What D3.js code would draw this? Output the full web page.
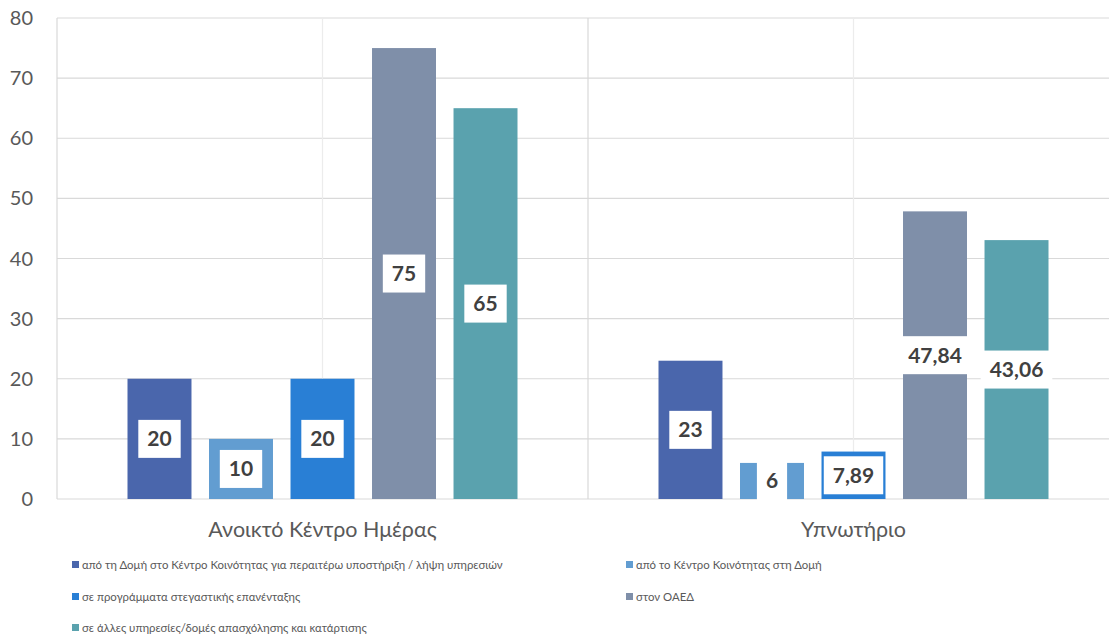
<!DOCTYPE html>
<html><head><meta charset="utf-8">
<script src="https://cdn.jsdelivr.net/npm/d3@7"></script>
<style>
html,body{margin:0;padding:0;background:#fff;}
svg{display:block;font-family:Lato,'Open Sans',sans-serif;}
</style></head>
<body><svg id="c" width="1109" height="636"></svg>
<script>
const categories = ["Ανοικτό Κέντρο Ημέρας", "Υπνωτήριο"];
const seriesNames = [
  "από τη Δομή στο Κέντρο Κοινότητας για περαιτέρω υποστήριξη / λήψη υπηρεσιών",
  "από το Κέντρο Κοινότητας στη Δομή",
  "σε προγράμματα στεγαστικής επανένταξης",
  "στον ΟΑΕΔ",
  "σε άλλες υπηρεσίες/δομές απασχόλησης και κατάρτισης"
];
const valuesCenter = [20, 10, 20, 75, 65];
const valuesShelter = [23, 6, 7.89, 47.84, 43.06];
const seriesColors = ["#4a66ac", "#629dd1", "#297fd5", "#7f8fa9", "#5aa2ae"];
const yTicks = [0, 10, 20, 30, 40, 50, 60, 70, 80];

const allValues = [valuesCenter, valuesShelter];
const svg = d3.select("#c");
const L = 57, R = 1119, T = 18, B = 499;
const y = d3.scaleLinear().domain([0, 80]).range([B, T]);
const x0 = d3.scaleBand().domain(categories).range([L, R]).padding(0);
const x1 = d3.scaleBand().domain(d3.range(5)).range([0, x0.bandwidth()]).paddingInner(0.215).paddingOuter(0.865);

const grid = svg.append("g");
grid.selectAll("line.h").data(yTicks).join("line")
  .attr("x1", L).attr("x2", R).attr("y1", d => y(d)).attr("y2", d => y(d))
  .attr("stroke", "#d9d9d9").attr("stroke-width", 1.2);
const vx = [];
categories.forEach(c => { vx.push({x: x0(c), main: true}); vx.push({x: x0(c) + x0.bandwidth()/2, main: false}); });
grid.selectAll("line.v").data(vx).join("line")
  .attr("x1", d => d.x).attr("x2", d => d.x).attr("y1", T).attr("y2", B)
  .attr("stroke", d => d.main ? "#d9d9d9" : "#ececec").attr("stroke-width", 1.2);

svg.append("g").selectAll("text").data(yTicks).join("text")
  .attr("x", 33).attr("y", d => y(d)).attr("dy", "0.35em")
  .attr("text-anchor", "end").attr("font-size", 20).attr("fill", "#595959")
  .text(d => d);

svg.append("g").selectAll("text").data(categories).join("text")
  .attr("x", d => x0(d) + x0.bandwidth()/2).attr("y", 537)
  .attr("text-anchor", "middle").attr("font-size", 21.5).attr("fill", "#595959")
  .text(d => d);

const groups = svg.append("g").selectAll("g").data(categories).join("g")
  .attr("transform", d => `translate(${x0(d)},0)`);
groups.selectAll("rect").data((c, ci) => allValues[ci].map((v, i) => ({v, i})))
  .join("rect")
  .attr("x", d => x1(d.i)).attr("width", x1.bandwidth())
  .attr("y", d => y(d.v)).attr("height", d => B - y(d.v))
  .attr("fill", d => seriesColors[d.i]);

const fmt = v => String(v).replace(".", ",");
groups.each(function(c, ci) {
  const g = d3.select(this);
  allValues[ci].forEach((v, i) => {
    const cx = x1(i) + x1.bandwidth()/2;
    const cy = y(v / 2);
    const lg = g.append("g");
    const box = lg.append("rect").attr("fill", "#fff");
    const t = lg.append("text").attr("x", cx).attr("y", cy).attr("dy", "0.35em")
      .attr("text-anchor", "middle").attr("font-size", 21).attr("font-weight", 700)
      .attr("fill", "#404040").text(fmt(v));
    const w = t.node().getComputedTextLength();
    box.attr("x", cx - w/2 - 9).attr("width", w + 18)
      .attr("y", cy - 19).attr("height", 38);
  });
});

const legendPos = [
  {x: 72, y: 565}, {x: 626, y: 565},
  {x: 72, y: 597}, {x: 626, y: 597},
  {x: 72, y: 628}
];
const lg = svg.append("g").selectAll("g").data(seriesNames).join("g")
  .attr("transform", (d, i) => `translate(${legendPos[i].x},${legendPos[i].y})`);
lg.append("rect").attr("x", 0).attr("y", -4).attr("width", 7).attr("height", 7)
  .attr("fill", (d, i) => seriesColors[i]);
lg.append("text").attr("x", 10).attr("y", 0).attr("dy", "0.35em")
  .attr("font-size", 11.4).attr("fill", "#595959").text(d => d);
</script></body></html>
